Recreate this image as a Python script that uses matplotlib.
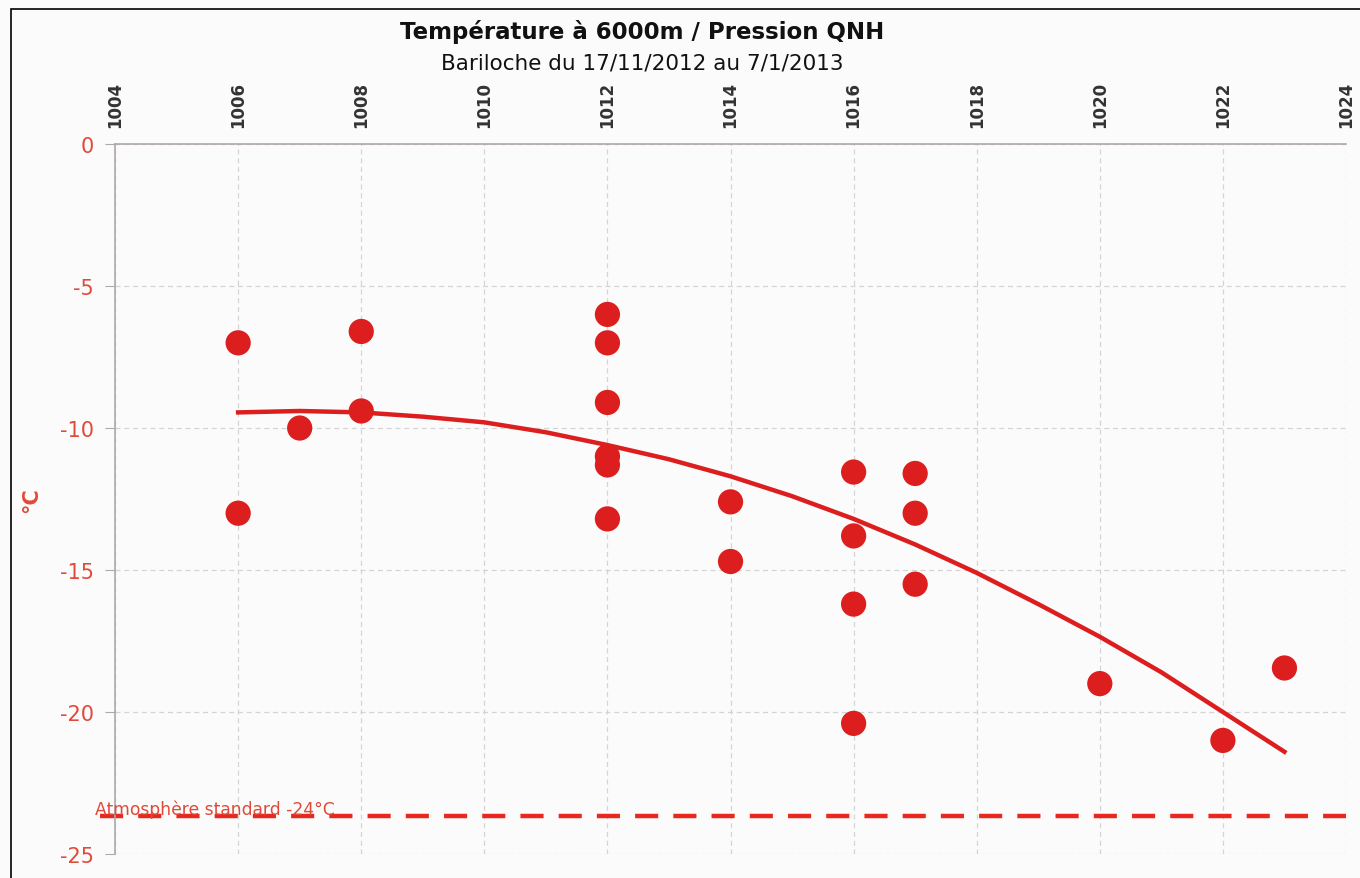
import numpy as np
import matplotlib.pyplot as plt

# données
pression = [1006, 1006, 1007, 1008, 1008, 1012, 1012, 1012, 1012, 1012, 1012,
            1014, 1014, 1016, 1016, 1016, 1016, 1017, 1017, 1017, 1020, 1022, 1023]
temp = [-7.0, -13.0, -10.0, -6.6, -9.4, -6.0, -7.0, -9.1, -11.0, -11.3, -13.2,
        -12.6, -14.7, -11.55, -13.8, -16.2, -20.4, -11.6, -13.0, -15.5, -19.0, -21.0, -18.45]
# courbe de tendance
tend_x = list(range(1006, 1024))
tend_y = [-9.45, -9.4, -9.45, -9.6, -9.8, -10.15, -10.6, -11.1, -11.7, -12.4,
          -13.2, -14.1, -15.1, -16.2, -17.35, -18.6, -20.0, -21.4]
atm_std = -23.65
xticks = list(range(1004, 1025, 2))
yticks = [0, -5, -10, -15, -20, -25]

rouge = '#dc1e1e'
rouge_txt = '#e04a3a'

plt.rcParams['font.family'] = ['DejaVu Sans']

fig = plt.figure(figsize=(13.6, 8.79), dpi=100, facecolor='#fbfbfb')
ax = fig.add_axes([0.0846, 0.0273, 0.9051, 0.8077])
ax.set_facecolor('#fbfbfb')

ax.scatter(pression, temp, s=330, color=rouge, zorder=3, edgecolors='none')
ax.plot(tend_x, tend_y, color=rouge, lw=3.2, zorder=2, solid_joinstyle='round')

ax.plot([1003.75, 1024], [atm_std, atm_std], color='#e8281e', lw=3.2, ls=(0, (5.2, 3.4)),
        clip_on=False, zorder=2)
ax.text(1003.68, atm_std - 0.08, 'Atmosphère standard -24°C', color=rouge_txt,
        fontsize=12.3, va='bottom', ha='left')

ax.set_xlim(1004, 1024)
ax.set_ylim(-25, 0)
ax.xaxis.tick_top()
ax.set_xticks(xticks)
ax.set_xticklabels([str(v) for v in xticks], rotation=90, fontsize=12,
                   fontweight='bold', color='#333333')
ax.set_yticks(yticks)
ax.set_yticklabels([str(v) for v in yticks], fontsize=15, color=rouge_txt)
ax.tick_params(axis='x', length=0, pad=12)
ax.tick_params(axis='y', length=7, color='#aaaaaa', pad=8)
ax.grid(True, ls=(0, (4, 3)), color='#d4d4d4', lw=0.9)
ax.set_axisbelow(True)
for s in ['right', 'bottom']:
    ax.spines[s].set_visible(False)
for s in ['left', 'top']:
    ax.spines[s].set_color('#b0a8a8')
    ax.spines[s].set_linewidth(1.2)

ax.set_ylabel('°C', fontsize=15, fontweight='bold', color=rouge_txt, labelpad=14)

fig.text(0.472, 0.964, 'Température à 6000m / Pression QNH', ha='center', va='center',
         fontsize=16.5, fontweight='bold', color='#111111')
fig.text(0.472, 0.928, 'Bariloche du 17/11/2012 au 7/1/2013', ha='center', va='center',
         fontsize=15.5, color='#111111')

# cadre
fig.patches.append(plt.Rectangle((0.008, -0.01), 0.995, 0.999, transform=fig.transFigure,
                                 fill=False, edgecolor='black', lw=1.2))

fig.savefig('out.png', dpi=100, facecolor=fig.get_facecolor())
